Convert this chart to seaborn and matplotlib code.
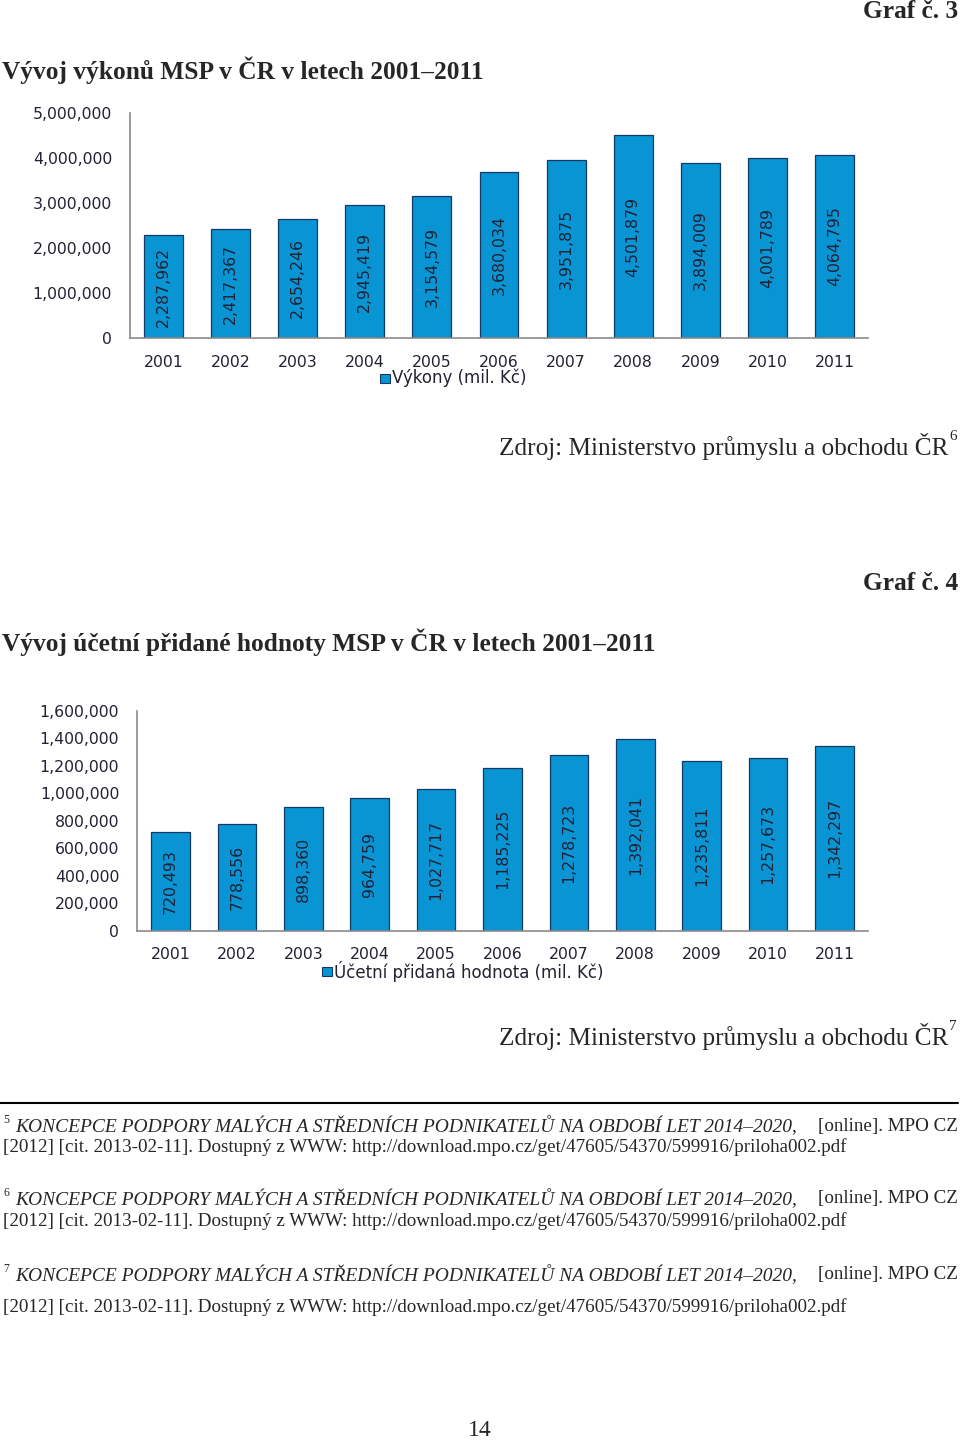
import matplotlib
matplotlib.use("Agg")
import matplotlib.pyplot as plt
import seaborn as sns
import pandas as pd

# ====================================================
# DATA
# ====================================================

years = ["2001", "2002", "2003", "2004", "2005", "2006",
         "2007", "2008", "2009", "2010", "2011"]

vykony = [2287962, 2417367, 2654246, 2945419, 3154579, 3680034,
          3951875, 4501879, 3894009, 4001789, 4064795]

pridana_hodnota = [720493, 778556, 898360, 964759, 1027717, 1185225,
                   1278723, 1392041, 1235811, 1257673, 1342297]

ticks_1 = [0, 1000000, 2000000, 3000000, 4000000, 5000000]
ticks_2 = [0, 200000, 400000, 600000, 800000, 1000000, 1200000, 1400000, 1600000]

# ====================================================
# STYLE
# ====================================================

sns.set_style("white")
plt.rcParams["font.family"] = ["DejaVu Sans"]

BAR = "#0994D4"
EDGE = "#123a66"
AXIS = "#8a8a8a"
TXT = "#222233"
SERIF = ["Liberation Serif", "DejaVu Serif"]
FS = 11.3

W, H = 960, 1442
fig = plt.figure(figsize=(9.6, 14.42), dpi=100)


def px(x, y):
    return x / W, 1 - y / H


def ptext(x, y, s, **kw):
    fx, fy = px(x, y)
    fig.text(fx, fy, s, **kw)


def bar_chart(rect, values, ticks, ymax, legend_text, legend_xy):
    l, t, r, b = rect
    ax = fig.add_axes([l / W, 1 - b / H, (r - l) / W, (b - t) / H])
    df = pd.DataFrame({"year": years, "value": values})
    sns.barplot(data=df, x="year", y="value", color=BAR, width=0.58,
                edgecolor=EDGE, linewidth=0.9, saturation=1, ax=ax)
    ax.set_xlim(-0.5, len(years) - 0.5)
    ax.set_ylim(0, ymax)
    ax.set_yticks(ticks)
    ax.set_yticklabels([f"{v:,}" for v in ticks], fontsize=FS, color=TXT)
    ax.set_xticks(range(len(years)))
    ax.set_xticklabels(years, fontsize=FS, color=TXT)
    ax.set_xticks([i - 0.5 for i in range(len(years) + 1)], minor=True)
    ax.tick_params(axis="x", which="major", length=0, pad=12)
    ax.tick_params(axis="x", which="minor", length=6, color=AXIS, width=1.2)
    ax.tick_params(axis="y", length=7, color=AXIS, width=1, pad=6)
    ax.set_xlabel("")
    ax.set_ylabel("")
    for s in ["top", "right"]:
        ax.spines[s].set_visible(False)
    for s in ["left", "bottom"]:
        ax.spines[s].set_color(AXIS)
        ax.spines[s].set_linewidth(1.2)
    for i, v in enumerate(values):
        ax.text(i, v / 2, f"{v:,}", rotation=90, ha="center", va="center",
                fontsize=FS, color=TXT)
    # legend
    lx, ly = legend_xy
    fx, fy = px(lx, ly)
    fig.patches.append(plt.Rectangle((fx, fy - 4.5 / H), 10 / W, 9 / H,
                                     transform=fig.transFigure,
                                     facecolor=BAR, edgecolor=EDGE, lw=0.8))
    ptext(lx + 12, ly, legend_text, fontsize=12, color=TXT, va="center")
    return ax


# ====================================================
# GRAF 3
# ====================================================

ptext(958, 12, "Graf č. 3", family=SERIF, fontweight="bold", fontsize=18.3,
      ha="right", va="center")
ptext(2, 70, "Vývoj výkonů MSP v ČR v letech 2001–2011", family=SERIF,
      fontweight="bold", fontsize=18.3, ha="left", va="center")

bar_chart((130, 113, 868, 338), vykony, ticks_1, 5000000,
          "Výkony (mil. Kč)", (380, 378))

ptext(948, 446, "Zdroj: Ministerstvo průmyslu a obchodu ČR", family=SERIF,
      fontsize=18.2, ha="right", va="center")
ptext(949, 436, "6", family=SERIF, fontsize=11, ha="left", va="center")

# ====================================================
# GRAF 4
# ====================================================

ptext(958, 583, "Graf č. 4", family=SERIF, fontweight="bold", fontsize=18.3,
      ha="right", va="center")
ptext(2, 642, "Vývoj účetní přidané hodnoty MSP v ČR v letech 2001–2011",
      family=SERIF, fontweight="bold", fontsize=18.3, ha="left", va="center")

bar_chart((137.3, 710.7, 867.7, 930.7), pridana_hodnota, ticks_2, 1600000,
          "Účetní přidaná hodnota (mil. Kč)", (322, 971))

ptext(948, 1037, "Zdroj: Ministerstvo průmyslu a obchodu ČR", family=SERIF,
      fontsize=18.2, ha="right", va="center")
ptext(949, 1027, "7", family=SERIF, fontsize=11, ha="left", va="center")

# ====================================================
# FOOTNOTES
# ====================================================

fig.add_artist(plt.Line2D([0, 958 / W], [1 - 1103 / H] * 2,
                          transform=fig.transFigure, color="black", lw=1.5))

koncepce = "KONCEPCE PODPORY MALÝCH A STŘEDNÍCH PODNIKATELŮ NA OBDOBÍ LET 2014–2020,"
zdroj = ("[2012] [cit. 2013-02-11]. Dostupný z WWW: "
         "http://download.mpo.cz/get/47605/54370/599916/priloha002.pdf")

for num, y1, y2 in [("5", 1126, 1147), ("6", 1199, 1221), ("7", 1275, 1307)]:
    ptext(3, y1 - 6, num, family=SERIF, fontsize=8.5, ha="left", va="center")
    ptext(15, y1, koncepce, family=SERIF, fontstyle="italic", fontsize=14,
          ha="left", va="center")
    ptext(958, y1, "[online]. MPO CZ", family=SERIF, fontsize=13.7,
          ha="right", va="center")
    ptext(3, y2, zdroj, family=SERIF, fontsize=13.7, ha="left", va="center")

ptext(480, 1431, "14", family=SERIF, fontsize=17, ha="center", va="center")

fig.savefig("out.png", dpi=100)
